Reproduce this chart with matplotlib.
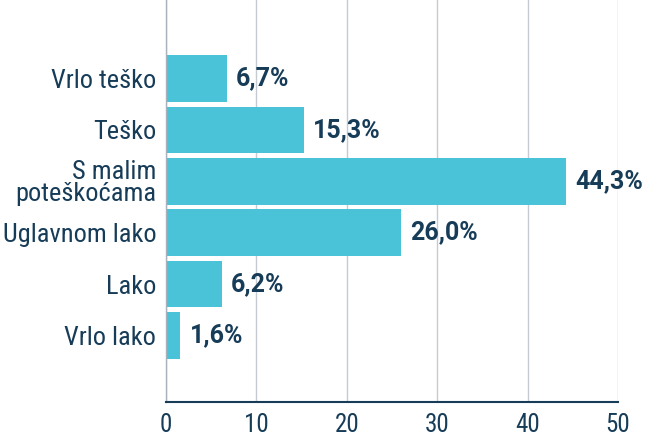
import matplotlib as mpl
import matplotlib.pyplot as plt
from matplotlib import font_manager

names = {f.name for f in font_manager.fontManager.ttflist}
narrow = [n for n in ['Roboto Condensed', 'Liberation Sans Narrow'] if n in names]
mpl.rcParams['font.family'] = narrow + ['Roboto']
catsize = 19 if narrow else 16

# data
categories = ['Vrlo teško', 'Teško', 'S malim\npoteškoćama', 'Uglavnom lako', 'Lako', 'Vrlo lako']
values = [6.7, 15.3, 44.3, 26.0, 6.2, 1.6]
labels = ['6,7%', '15,3%', '44,3%', '26,0%', '6,2%', '1,6%']
xticks = [0, 10, 20, 30, 40, 50]

navy = '#173c58'
bar_col = '#4ac3d9'

fig = plt.figure(figsize=(6.45, 4.36), dpi=100, facecolor='w')
ax = fig.add_axes([166/645, 1-401.7/436, (618-166)/645, 401.7/436])

pos = list(range(len(values)))
ax.barh(pos, values, height=0.91, color=bar_col, zorder=2)
for p, v, l in zip(pos, values, labels):
    ax.text(v + 1.0, p, l, va='center', ha='left', fontsize=18, family='Roboto',
            fontweight='bold', color=navy, zorder=3)

ax.set_xlim(0, 50)
ax.set_ylim(6.29, -1.53)
ax.set_xticks(xticks)
ax.set_yticks(pos)
ax.set_yticklabels(categories, fontsize=catsize, color=navy, linespacing=0.9)
ax.tick_params(axis='x', labelsize=18, labelcolor=navy, length=0, pad=8)
ax.tick_params(axis='y', length=0, pad=7)
ax.grid(axis='x', color='#c4cbd3', linewidth=1, zorder=0)
for s in ['top', 'right']:
    ax.spines[s].set_visible(False)
ax.spines['left'].set_color('#a8b2bd')
ax.spines['left'].set_linewidth(1)
ax.spines['bottom'].set_color(navy)
ax.spines['bottom'].set_linewidth(1.5)
for t in ax.get_yticklabels():
    t.set_multialignment('right')

plt.savefig('out.png', dpi=100)
